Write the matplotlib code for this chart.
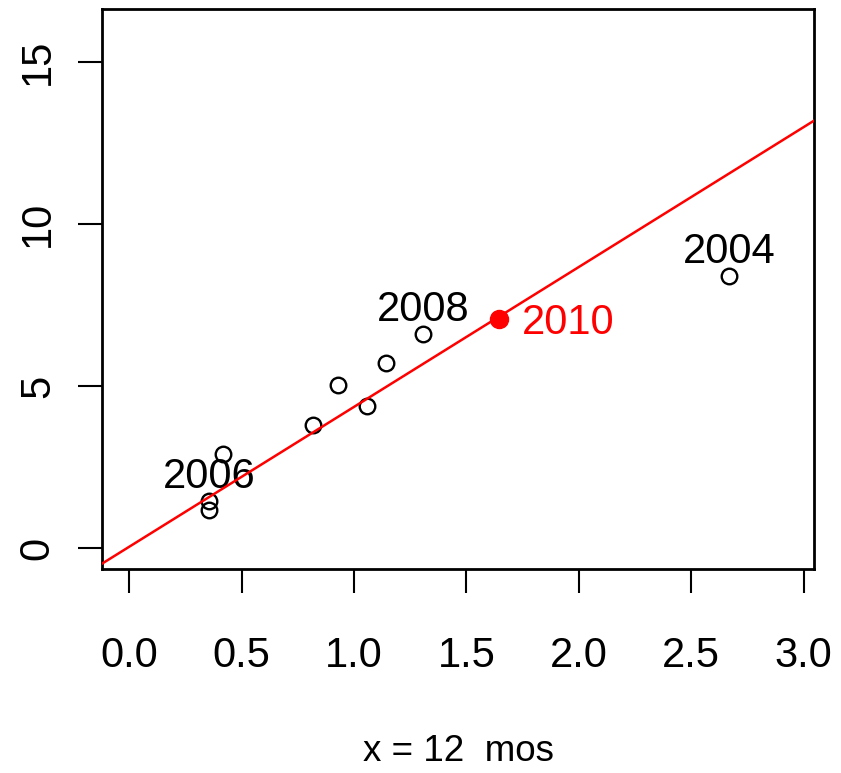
import matplotlib
matplotlib.use("Agg")
import matplotlib.pyplot as plt

plt.rcParams["font.family"] = ["Liberation Sans", "DejaVu Sans"]

# growth at 12 months vs later value, one point per year
x12 = [2.669, 1.308, 1.142, 0.927, 1.059, 0.818, 0.418, 0.356, 0.356]
yval = [8.40, 6.59, 5.70, 5.03, 4.38, 3.78, 2.90, 1.45, 1.17]
year_labels = ["2004", "2008", "", "", "", "", "", "2006", ""]

# new year and fitted line
new_x = 1.646
new_y = 7.06
new_label = "2010"
fit_a = 0.04
fit_b = 4.314

xticks = [0.0, 0.5, 1.0, 1.5, 2.0, 2.5, 3.0]
yticks = [0, 5, 10, 15]

fig = plt.figure(figsize=(8.41, 7.73), dpi=100)
ax = fig.add_axes([0.1213, 0.2639, 0.8466, 0.7251])

ax.plot(x12, yval, "o", mfc="none", mec="black", ms=11.2, mew=1.7, zorder=2)
for xi, yi, lab in zip(x12, yval, year_labels):
    if lab:
        ax.annotate(lab, (xi, yi), xytext=(0, 9.3), textcoords="offset points",
                    ha="center", va="baseline", fontsize=30, zorder=3)

ax.axline((0, fit_a), slope=fit_b, color="red", lw=1.8, zorder=4)
ax.plot([new_x], [new_y], "o", color="red", ms=13, mew=1, zorder=5)
ax.annotate(new_label, (new_x, new_y), xytext=(16, -10.7), textcoords="offset points",
            ha="left", va="baseline", fontsize=30, color="red", zorder=5)

ax.set_xlim(-0.1214, 3.046)
ax.set_ylim(-0.648, 16.64)
ax.set_xticks(xticks)
ax.set_xticklabels(["%.1f" % t for t in xticks])
ax.set_yticks(yticks)
ax.set_yticklabels([str(t) for t in yticks], rotation=90, va="center")

for s in ax.spines.values():
    s.set_linewidth(2)
ax.tick_params(axis="both", direction="out", length=17.3, width=1.5, labelsize=30)
ax.tick_params(axis="x", pad=31)
ax.tick_params(axis="y", pad=14.5)

ax.set_xlabel("x = 12  mos", fontsize=26.5, labelpad=42)

fig.savefig("out.png", dpi=100)
